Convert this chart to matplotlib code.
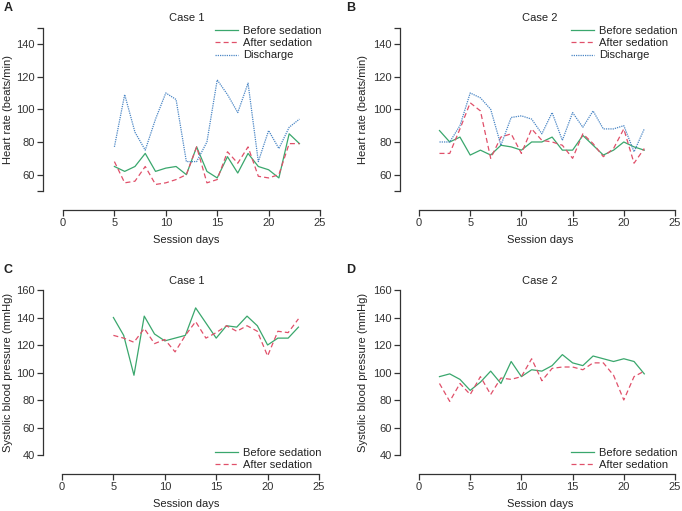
import numpy as np
import matplotlib.pyplot as plt

plt.rcParams['font.family'] = ['Liberation Sans', 'DejaVu Sans']

# Case 1 heart rate (sessions 5..23)
days1 = list(range(5, 24))
hr1_before = [65, 62, 65, 73, 62, 64, 65, 60, 77, 62, 58, 71, 61, 73, 65, 63, 58, 85, 79]
hr1_after = [68, 55, 56, 65, 54, 55, 57, 60, 77, 55, 57, 74, 67, 77, 59, 58, 60, 79, 79]
hr1_discharge = [77, 109, 86, 75, 94, 110, 106, 68, 68, 80, 118, 109, 98, 116, 68, 87, 76, 89, 94]

# Case 2 heart rate (sessions 2..22)
days2 = list(range(2, 23))
hr2_before = [87, 80, 83, 72, 75, 72, 78, 77, 75, 80, 80, 83, 75, 75, 84, 78, 72, 75, 80, 77, 75]
hr2_after = [73, 73, 88, 104, 99, 70, 83, 85, 73, 88, 81, 80, 78, 70, 85, 79, 71, 76, 88, 67, 76]
hr2_discharge = [80, 80, 90, 110, 107, 100, 78, 95, 96, 94, 85, 98, 81, 98, 89, 99, 88, 88, 90, 74, 88]

# Systolic blood pressure
sbp1_before = [140, 127, 98, 141, 128, 123, 125, 127, 147, 136, 125, 134, 133, 141, 134, 120, 125, 125, 133]
sbp1_after = [127, 125, 122, 132, 121, 124, 115, 127, 137, 125, 129, 134, 130, 134, 130, 112, 130, 129, 139]
sbp2_before = [97, 99, 95, 87, 93, 101, 92, 108, 97, 102, 101, 105, 113, 107, 105, 112, 110, 108, 110, 108, 99]
sbp2_after = [92, 79, 92, 84, 97, 84, 96, 95, 97, 110, 94, 103, 104, 104, 102, 107, 107, 98, 80, 97, 101]

green = '#3aa76d'
red = '#e0506a'
blue = '#4a86c5'
axc = '#333333'
fs = 8

W, H = 682, 511
fig = plt.figure(figsize=(W / 100, H / 100), dpi=100)


def make_ax(left, top, bottom, x0px, x25px, right):
    # pixel positions -> figure fractions
    ax = fig.add_axes([left / W, 1 - bottom / H, (right - left) / W, (bottom - top) / H])
    scale = (x25px - x0px) / 25
    ax.set_xlim(-(x0px - left) / scale, (right - x0px) / scale)
    ax.spines['top'].set_visible(False)
    ax.spines['right'].set_visible(False)
    ax.spines['bottom'].set_position(('outward', 19 * 0.72))
    ax.spines['bottom'].set_bounds(0, 25)
    for s in ('left', 'bottom'):
        ax.spines[s].set_color(axc)
        ax.spines[s].set_linewidth(0.9)
    ax.set_xticks([0, 5, 10, 15, 20, 25])
    ax.tick_params(colors=axc, labelsize=fs, length=4, width=0.9, pad=2)
    ax.set_xlabel('Session days', fontsize=fs, color='#222222', labelpad=5)
    ax.patch.set_visible(False)
    return ax


def hr_axis(ax):
    ax.set_ylim(50, 150)
    ax.spines['left'].set_bounds(50, 150)
    ax.set_yticks([50, 60, 80, 100, 120, 140, 150])
    ax.set_yticklabels(['', '60', '80', '100', '120', '140', ''])
    ax.set_ylabel('Heart rate (beats/min)', fontsize=fs, color='#222222')


def bp_axis(ax):
    ax.set_ylim(40, 160)
    ax.spines['left'].set_bounds(40, 160)
    ax.set_yticks([40, 60, 80, 100, 120, 140, 160])
    ax.set_ylabel('Systolic blood pressure (mmHg)', fontsize=fs, color='#222222')


lw = 0.9
dash = (0, (4, 2.5))
dot = (0, (1, 0.8))

# A
axA = make_ax(43, 27.6, 191, 63, 320, 330)
hr_axis(axA)
axA.plot(days1, hr1_before, color=green, lw=lw, label='Before sedation')
axA.plot(days1, hr1_after, color=red, lw=lw, ls=dash, label='After sedation')
axA.plot(days1, hr1_discharge, color=blue, lw=lw, ls=dot, label='Discharge')
axA.set_title('Case 1', fontsize=fs, color='#222222', pad=5)

# B
axB = make_ax(400, 27.6, 191, 419, 675, 680)
hr_axis(axB)
axB.plot(days2, hr2_before, color=green, lw=lw, label='Before sedation')
axB.plot(days2, hr2_after, color=red, lw=lw, ls=dash, label='After sedation')
axB.plot(days2, hr2_discharge, color=blue, lw=lw, ls=dot, label='Discharge')
axB.set_title('Case 2', fontsize=fs, color='#222222', pad=5)

# C
axC = make_ax(43, 290, 455, 62, 319, 330)
bp_axis(axC)
axC.plot(days1, sbp1_before, color=green, lw=lw, label='Before sedation')
axC.plot(days1, sbp1_after, color=red, lw=lw, ls=dash, label='After sedation')
axC.set_title('Case 1', fontsize=fs, color='#222222', pad=4)

# D
axD = make_ax(400, 290, 455, 419, 675, 680)
bp_axis(axD)
axD.plot(days2, sbp2_before, color=green, lw=lw, label='Before sedation')
axD.plot(days2, sbp2_after, color=red, lw=lw, ls=dash, label='After sedation')
axD.set_title('Case 2', fontsize=fs, color='#222222', pad=4)

# y label positions: right edge of the rotated label, in figure pixels
for ax, xpx, left in [(axA, 13, 43), (axB, 368, 400), (axC, 13, 43), (axD, 368, 400)]:
    bb = ax.get_position()
    ax.yaxis.set_label_coords((xpx - left) / (bb.width * W), 0.5)

for ax, loc, xpx, ypx in [(axA, 'upper left', 215, 26), (axB, 'upper left', 571, 26),
                          (axC, 'lower left', 215, 470), (axD, 'lower left', 571, 470)]:
    leg = ax.legend(loc=loc, bbox_to_anchor=(xpx / W, 1 - ypx / H), bbox_transform=fig.transFigure,
                    frameon=False, fontsize=fs, handlelength=2.1, handletextpad=0.45,
                    labelspacing=0.2, borderpad=0, borderaxespad=0)
    for t in leg.get_texts():
        t.set_color('#222222')

for lab, x, y in [('A', 4, 8), ('B', 346, 8), ('C', 4, 270), ('D', 346, 270)]:
    fig.text(x / W, 1 - y / H, lab, fontsize=9, fontweight='bold', va='center', ha='left', color='#222222')

fig.savefig('out.png', dpi=100)
